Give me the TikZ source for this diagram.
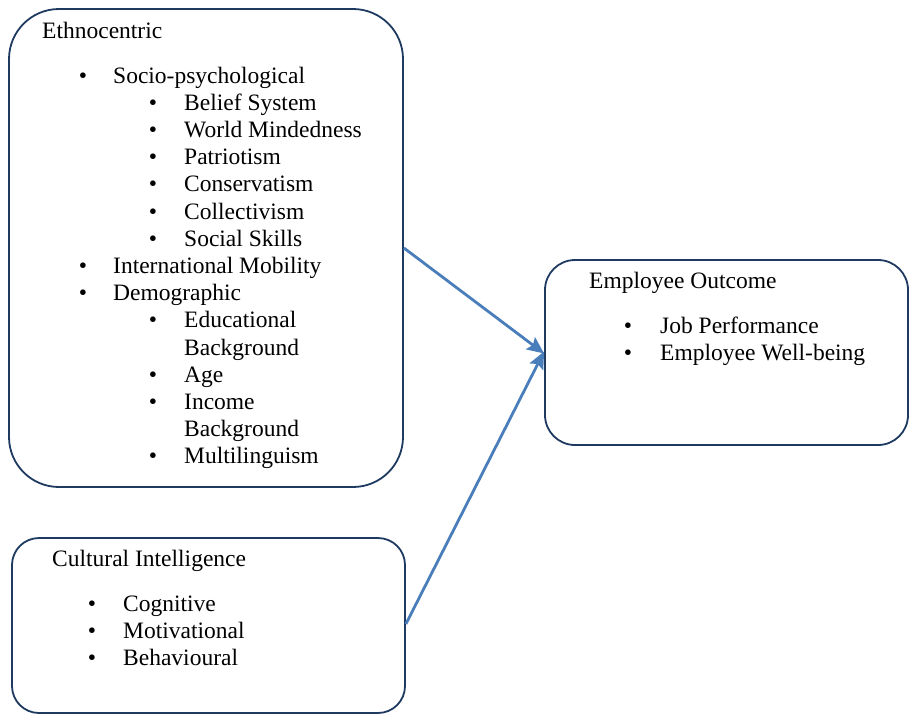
\documentclass[tikz,border=0pt]{standalone}
\usepackage{fontspec}
\setmainfont{Liberation Serif}
\usetikzlibrary{arrows.meta}
\definecolor{boxline}{HTML}{1F3A60}
\definecolor{arrowblue}{HTML}{4A7EBB}
\begin{document}
\begin{tikzpicture}[x=1pt,y=-1pt,
  panel/.style={draw=boxline,line width=1.8pt,rectangle,inner sep=0pt,fill=none},
  txt/.style={anchor=base west,inner sep=0pt,font=\fontsize{23.5}{27}\selectfont},
  dot/.style={anchor=base,inner sep=0pt,font=\fontsize{23.5}{27}\selectfont},
  link/.style={draw=arrowblue,line width=2.8pt,-{Stealth[length=17pt,width=15pt,inset=3pt]}}]
\useasboundingbox (0,0) rectangle (909,715);

% boxes
\node[panel,rounded corners=50pt,minimum width=394pt,minimum height=478pt] (ethno) at (206,248) {};
\node[panel,rounded corners=27pt,minimum width=393pt,minimum height=175pt] (cq) at (208.5,625.5) {};
\node[panel,rounded corners=30pt,minimum width=363pt,minimum height=185pt] (outcome) at (726.5,352.5) {};

% Ethnocentric contents
\node[txt] (t0) at (42,38) {Ethnocentric};
\foreach \k/\lvl/\b/\s in {
  0/1/1/Socio-psychological,
  1/2/1/Belief System,
  2/2/1/World Mindedness,
  3/2/1/Patriotism,
  4/2/1/Conservatism,
  5/2/1/Collectivism,
  6/2/1/Social Skills,
  7/1/1/International Mobility,
  8/1/1/Demographic,
  9/2/1/Educational,
  10/2/0/Background,
  11/2/1/Age,
  12/2/1/Income,
  13/2/0/Background,
  14/2/1/Multilinguism}{
  \pgfmathsetmacro{\yy}{83+27.2*\k}
  \ifnum\lvl=1
    \node[txt] (e\k) at (113,\yy) {\s};
    \ifnum\b=1 \node[dot] (eb\k) at (83,\yy) {\textbullet};\fi
  \else
    \node[txt] (e\k) at (184,\yy) {\s};
    \ifnum\b=1 \node[dot] (eb\k) at (153,\yy) {\textbullet};\fi
  \fi
}

% Cultural Intelligence contents
\node[txt] (c0) at (52,566) {Cultural Intelligence};
\foreach \k/\s in {0/Cognitive,1/Motivational,2/Behavioural}{
  \pgfmathsetmacro{\yy}{611+27*\k}
  \node[txt] (c\k) at (123,\yy) {\s};
  \node[dot] (cb\k) at (92,\yy) {\textbullet};
}

% Employee Outcome contents
\node[txt] (o0) at (589,288) {Employee Outcome};
\foreach \k/\s in {0/Job Performance,1/Employee Well-being}{
  \pgfmathsetmacro{\yy}{333+27*\k}
  \node[txt] (o\k) at (660,\yy) {\s};
  \node[dot] (ob\k) at (628,\yy) {\textbullet};
}

% connectors
\draw[link] (ethno.east) -- ([yshift=-1pt]outcome.west);
\draw[link] ([yshift=1.5pt]cq.east) -- ([yshift=1pt]outcome.west);
\end{tikzpicture}
\end{document}
